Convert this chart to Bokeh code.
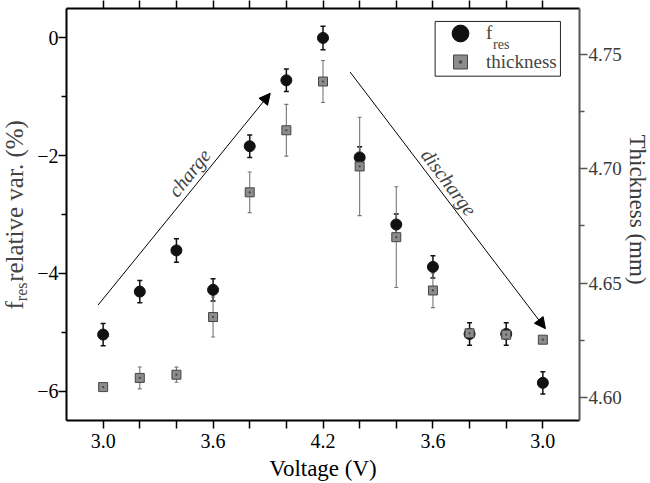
from bokeh.plotting import figure
from bokeh.layouts import row
from bokeh.models import (Range1d, LinearAxis, FixedTicker, ColumnDataSource, Whisker, TeeHead,
                          Arrow, NormalHead, Label, Legend, LegendItem, NumeralTickFormatter,
                          BoxAnnotation)
from bokeh.embed import file_html
from bokeh.resources import INLINE

# ---------------- data ----------------
volt_labels = ["3.0", "3.2", "3.4", "3.6", "3.8", "4.0", "4.2", "4.0", "3.8", "3.6", "3.4", "3.2", "3.0"]
step_idx = list(range(len(volt_labels)))
label_every = 3

fres = [-5.04, -4.31, -3.61, -4.28, -1.84, -0.72, 0.00, -2.03, -3.17, -3.89, -5.03, -5.03, -5.86]
fres_err = [0.19, 0.19, 0.20, 0.19, 0.19, 0.19, 0.20, 0.18, 0.18, 0.19, 0.19, 0.19, 0.19]

thickness = [4.6046, 4.6086, 4.6100, 4.6352, 4.6897, 4.7168, 4.7381, 4.7010, 4.6701, 4.6468, 4.6281, 4.6275, 4.6253]
thick_err = [0.0010, 0.0048, 0.0033, 0.0087, 0.0089, 0.0113, 0.0092, 0.0215, 0.0220, 0.0075, 0.0020, 0.0020, 0.0010]

left_ticks = [0, -2, -4, -6]
left_minor = [-1, -3, -5]
right_ticks = [4.60, 4.65, 4.70, 4.75]
right_minor = [4.625, 4.675, 4.725]

x_lim = (-1, 13)
y_lim = (-6.5, 0.5)
thick_lim = (4.59, 4.77)

# annotation arrows (data coordinates)
charge_arrow = (-0.14, -4.54, 4.56, -0.94)
discharge_arrow = (6.74, -0.58, 12.07, -4.94)
charge_text = (2.35, -2.29)
discharge_text = (9.44, -2.45)
# legend frame (data coordinates of the box corners)
legend_box = (9.06, 12.48, -0.65, 0.28)

FONT = "Liberation Serif"
H = 483
LEFT_W = 30
RIGHT_W = 26
MAIN_W = 650 - LEFT_W - RIGHT_W

p = figure(width=MAIN_W, height=H, output_backend="svg", toolbar_location=None,
           x_range=Range1d(*x_lim), y_range=Range1d(*y_lim))
p.extra_y_ranges = {"thick": Range1d(*thick_lim)}
p.xgrid.visible = False
p.ygrid.visible = False
p.outline_line_color = None
p.min_border = 0
p.min_border_left = 36
p.min_border_right = 43
p.background_fill_color = "white"


def blank_fig(w):
    f = figure(width=w, height=H, output_backend="svg", toolbar_location=None,
               x_range=Range1d(0, w), y_range=p.y_range,
               x_axis_location=None, y_axis_location=None)
    f.min_border = 0
    f.outline_line_color = None
    for g in f.grid:
        g.visible = False
    return f


def style_axis(ax, color="black", label_color="black"):
    ax.axis_line_width = 2
    ax.axis_line_color = color
    ax.major_tick_line_color = color
    ax.minor_tick_line_color = color
    ax.major_tick_line_width = 1.5
    ax.minor_tick_line_width = 1.5
    ax.major_tick_in = 0
    ax.major_tick_out = 8
    ax.minor_tick_in = 0
    ax.minor_tick_out = 5
    ax.major_label_text_font = FONT
    ax.major_label_text_font_size = "20px"
    ax.major_label_text_color = label_color
    ax.major_label_standoff = 5
    ax.axis_label_text_font = FONT
    ax.axis_label_text_font_style = "normal"
    ax.axis_label_text_color = label_color


# bottom axis
xa = p.xaxis[0]
style_axis(xa)
xa.ticker = FixedTicker(ticks=step_idx)
xa.major_label_overrides = {i: (volt_labels[i] if i % label_every == 0 else "") for i in step_idx}
xa.axis_label = "Voltage (V)"
xa.axis_label_text_font_size = "23px"
xa.axis_label_standoff = 5

# left axis
ya = p.yaxis[0]
style_axis(ya)
ya.major_label_standoff = 0
ya.ticker = FixedTicker(ticks=left_ticks, minor_ticks=left_minor)
ya.major_label_overrides = {t: str(t).replace("-", "\u2212") for t in left_ticks}

# top axis (ticks only)
ta = LinearAxis(ticker=FixedTicker(ticks=step_idx))
style_axis(ta)
ta.major_label_text_font_size = "0px"
ta.major_label_standoff = 0
ta.major_label_overrides = {i: "" for i in step_idx}
p.add_layout(ta, "above")

# right axis
ra = LinearAxis(y_range_name="thick", ticker=FixedTicker(ticks=right_ticks, minor_ticks=right_minor),
                formatter=NumeralTickFormatter(format="0.00"))
style_axis(ra, color="#555555", label_color="#3a3a3a")
ra.major_label_text_font_size = "19px"
ra.major_label_standoff = 1
p.add_layout(ra, "right")

# ---------------- data marks ----------------
src = ColumnDataSource(dict(
    x=step_idx,
    fres=fres,
    flo=[v - e for v, e in zip(fres, fres_err)],
    fhi=[v + e for v, e in zip(fres, fres_err)],
    thick=thickness,
    tlo=[v - e for v, e in zip(thickness, thick_err)],
    thi=[v + e for v, e in zip(thickness, thick_err)],
))

w1 = Whisker(base="x", lower="flo", upper="fhi", source=src, line_color="#111111", line_width=1.5,
             upper_head=TeeHead(size=5, line_color="#111111", line_width=1.5),
             lower_head=TeeHead(size=5, line_color="#111111", line_width=1.5))
p.add_layout(w1)
circ = p.scatter("x", "fres", source=src, marker="circle", size=11,
                 fill_color="#111111", line_color="#111111")

w2 = Whisker(base="x", lower="tlo", upper="thi", source=src, y_range_name="thick",
             line_color="#777777", line_width=1.1,
             upper_head=TeeHead(size=4, line_color="#777777", line_width=1.1),
             lower_head=TeeHead(size=4, line_color="#777777", line_width=1.1))
p.add_layout(w2)
sq = p.scatter("x", "thick", source=src, y_range_name="thick", marker="square_dot", size=9,
               fill_color="#8c8c8c", line_color="#444444", line_width=1)

# ---------------- legend (two single-item legends inside one frame) ----------------
common = dict(margin=0, padding=0, spacing=0, glyph_width=48, label_standoff=2,
              label_text_font=FONT, label_text_font_size="19px",
              border_line_color=None, background_fill_alpha=0.0)
p.add_layout(Legend(items=[LegendItem(label="f", renderers=[circ])],
                    location=(370, 366), glyph_height=42, **common))
p.add_layout(Legend(items=[LegendItem(label="thickness", renderers=[sq])],
                    location=(370, 341), glyph_height=35, **common))
p.add_layout(BoxAnnotation(left=legend_box[0], right=legend_box[1],
                           bottom=legend_box[2], top=legend_box[3],
                           fill_alpha=0.0, line_color="#222222", line_width=1, line_alpha=1.0))
p.add_layout(Label(x=x_lim[0], y=y_lim[0], x_offset=426.5, y_offset=376.5, text="res",
                   text_font=FONT, text_font_size="14px", text_align="left",
                   text_baseline="alphabetic", level="overlay"))

# ---------------- arrows and text ----------------
for (xs, ys, xe, ye) in (charge_arrow, discharge_arrow):
    p.add_layout(Arrow(x_start=xs, y_start=ys, x_end=xe, y_end=ye, line_width=1, line_color="black",
                       end=NormalHead(size=11, fill_color="black", line_color="black", line_width=1)))

p.add_layout(Label(x=charge_text[0], y=charge_text[1], text="charge", angle=51, angle_units="deg",
                   text_font=FONT, text_font_style="italic", text_font_size="20px",
                   text_align="center", text_baseline="middle"))
p.add_layout(Label(x=discharge_text[0], y=discharge_text[1], text="discharge", angle=-53, angle_units="deg",
                   text_font=FONT, text_font_style="italic", text_font_size="20px",
                   text_align="center", text_baseline="middle"))

# ---------------- left label strip: f_res relative var. (%) ----------------
y_mid = (y_lim[0] + y_lim[1]) / 2
lf = blank_fig(LEFT_W)
for txt, xc, dy, fs in (("f", 13.9, -90.85, "25px"),
                        ("res", 20.9, -77.35, "16px"),
                        ("relative var. (%)", 13.9, 13.5, "25px")):
    lf.add_layout(Label(x=xc, y=y_mid, y_offset=dy, text=txt, angle=90, angle_units="deg",
                        text_font=FONT, text_font_size=fs,
                        text_align="center", text_baseline="middle"))

# ---------------- right label strip: Thickness (mm) ----------------
rf = blank_fig(RIGHT_W)
rf.add_layout(Label(x=13, y=y_mid, y_offset=5, text="Thickness (mm)", angle=-90, angle_units="deg",
                    text_font=FONT, text_font_size="23px", text_color="#3a3a3a",
                    text_align="center", text_baseline="middle"))

layout = row(lf, p, rf)
open("out.html", "w").write(file_html(layout, INLINE))
